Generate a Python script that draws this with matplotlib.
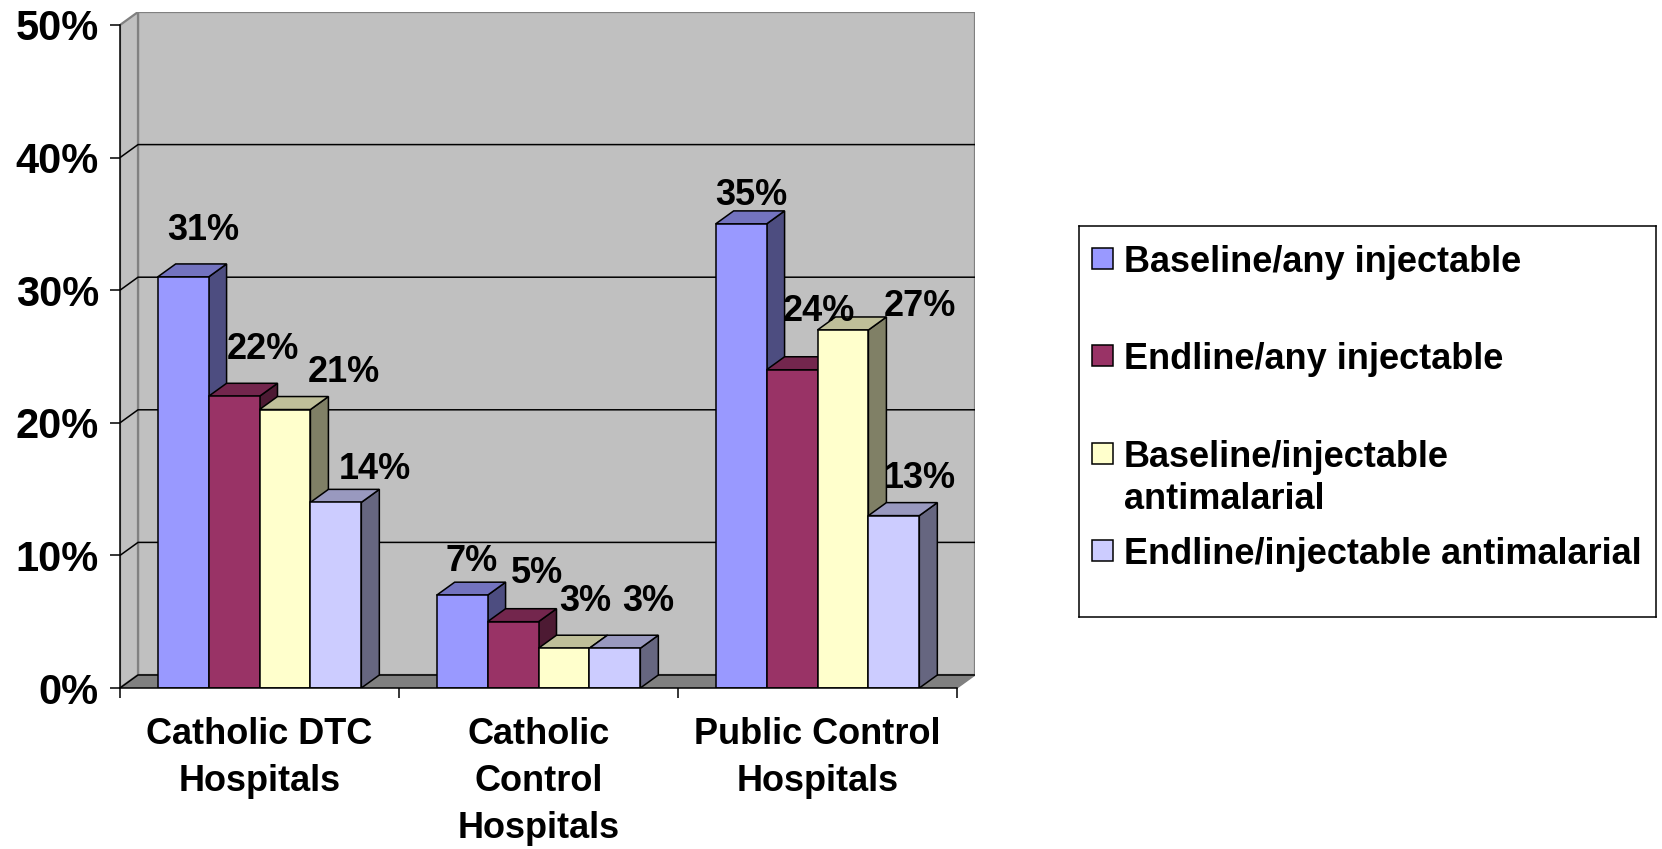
import matplotlib.pyplot as plt
from matplotlib.patches import Polygon, Rectangle
from matplotlib.colors import to_rgb

plt.rcParams['font.family'] = ['Liberation Sans', 'DejaVu Sans']
plt.rcParams['font.weight'] = 'bold'

# data
categories = ["Catholic DTC\nHospitals", "Catholic\nControl\nHospitals", "Public Control\nHospitals"]
series_names = ["Baseline/any injectable", "Endline/any injectable",
                "Baseline/injectable\nantimalarial", "Endline/injectable antimalarial"]
baseline_any = [31, 7, 35]
endline_any = [22, 5, 24]
baseline_antimalarial = [21, 3, 27]
endline_antimalarial = [14, 3, 13]
y_ticks = [0, 10, 20, 30, 40, 50]

series_values = [baseline_any, endline_any, baseline_antimalarial, endline_antimalarial]
front_colors = ["#9999FF", "#993366", "#FFFFCC", "#CCCCFF"]

# where each value label sits relative to the bar's front top edge (pixels right, up)
label_offsets = [
    [(20, 46), (10, 34), (10, 28)],
    [(29, 47), (24, 48), (27, 58)],
    [(59, 37), (21, 47), (77, 23)],
    [(39, 33), (33, 47), (26, 37)],
]


def shade(color, k):
    r, g, b = to_rgb(color)
    return (r * k, g * k, b * k)


W, H = 1662, 849
fig = plt.figure(figsize=(W / 100, H / 100), dpi=100)
PX = 0.72  # points per pixel at dpi 100

# plot area geometry in pixels
x_front_left, x_front_right = 120, 957
y_zero, y_top = 688, 25
depth_x_px, depth_y_px = 18, 13

cat_px = (x_front_right - x_front_left) / 3
px_per_pct = (y_zero - y_top) / 50
dx = depth_x_px / cat_px
dy = depth_y_px / px_per_pct

ax = fig.add_axes([x_front_left / W, (H - y_zero) / H,
                   (x_front_right + depth_x_px - x_front_left) / W,
                   (y_zero - y_top + depth_y_px) / H])
ax.set_xlim(-0.5, 2.5 + dx)
ax.set_ylim(0, 50 + dy)
ax.patch.set_visible(False)

wall = "#C0C0C0"
edge_gray = "#808080"
lw = 1.1

# back wall, side wall and floor
ax.add_patch(Rectangle((-0.5 + dx, dy), 3, 50, facecolor=wall, edgecolor=edge_gray,
                       linewidth=1.6, zorder=0))
ax.add_patch(Polygon([(-0.5, 0), (-0.5, 50), (-0.5 + dx, 50 + dy), (-0.5 + dx, dy)],
                     closed=True, facecolor=wall, edgecolor=edge_gray, linewidth=1.6, zorder=0.5))
ax.add_patch(Polygon([(-0.5, 0), (2.5, 0), (2.5 + dx, dy), (-0.5 + dx, dy)],
                     closed=True, facecolor=edge_gray, edgecolor=edge_gray, linewidth=1.0, zorder=0.6))

# gridlines on the back wall and their run across the side wall
for t in y_ticks[:-1]:
    ax.plot([-0.5, -0.5 + dx, 2.5 + dx], [t, t + dy, t + dy], color="black",
            linewidth=lw, zorder=1, solid_capstyle="butt")

# bars: front via ax.bar, top and side faces as parallelograms
bar_w = (1 - 0.27) / 4
for i, (vals, color) in enumerate(zip(series_values, front_colors)):
    z = 2 + i
    for j, v in enumerate(vals):
        x0 = j - 2 * bar_w + i * bar_w
        x1 = x0 + bar_w
        ax.add_patch(Polygon([(x1, 0), (x1, v), (x1 + dx, v + dy), (x1 + dx, dy)], closed=True,
                             facecolor=shade(color, 0.5), edgecolor="black", linewidth=lw, zorder=z))
        ax.add_patch(Polygon([(x0, v), (x1, v), (x1 + dx, v + dy), (x0 + dx, v + dy)], closed=True,
                             facecolor=shade(color, 0.75), edgecolor="black", linewidth=lw, zorder=z))
    xs = [j - 2 * bar_w + i * bar_w for j in range(len(vals))]
    ax.bar(xs, vals, width=bar_w, align="edge", color=color, edgecolor="black",
           linewidth=lw, zorder=z + 0.5)
    for j, v in enumerate(vals):
        ox, oy = label_offsets[i][j]
        ax.annotate(f"{v}%", xy=(xs[j] + bar_w / 2, v), xytext=(ox * PX, oy * PX),
                    textcoords="offset points", ha="center", va="center",
                    fontsize=26, fontweight="bold", zorder=20, annotation_clip=False)

# axes lines and ticks
for s in ["top", "right"]:
    ax.spines[s].set_visible(False)
ax.spines["left"].set_bounds(0, 50)
ax.spines["bottom"].set_bounds(-0.5, 2.5)
for s in ["left", "bottom"]:
    ax.spines[s].set_linewidth(lw)
    ax.spines[s].set_zorder(30)

ax.set_yticks(y_ticks, labels=[f"{t}%" for t in y_ticks])
ax.tick_params(axis="y", length=10 * PX, width=lw, pad=8, labelsize=30)
ax.set_xticks(range(len(categories)), labels=categories)
ax.set_xticks([-0.5, 0.5, 1.5, 2.5], minor=True)
ax.tick_params(axis="x", which="major", length=0, pad=21, labelsize=26)
ax.tick_params(axis="x", which="minor", length=10 * PX, width=lw)
for t in ax.get_xticklabels():
    t.set_linespacing(1.45)

# legend box
bx0, by0, bx1, by1 = 1079, 226, 1656, 617
lax = fig.add_axes([bx0 / W, (H - by1) / H, (bx1 - bx0) / W, (by1 - by0) / H])
lax.set_xlim(0, bx1 - bx0)
lax.set_ylim(by1 - by0, 0)
lax.set_xticks([])
lax.set_yticks([])
for s in lax.spines.values():
    s.set_linewidth(lw)
row_y = [33, 130, 228, 325]
line_gap = 42
for name, color, y in zip(series_names, front_colors, row_y):
    lax.add_patch(Rectangle((13, y - 11), 21, 21, facecolor=color, edgecolor="black", linewidth=lw))
    for k, line in enumerate(name.split("\n")):
        lax.text(45, y + 13 + k * line_gap, line, ha="left", va="baseline",
                 fontsize=26, fontweight="bold")

fig.savefig("out.png", dpi=100, facecolor="white")
